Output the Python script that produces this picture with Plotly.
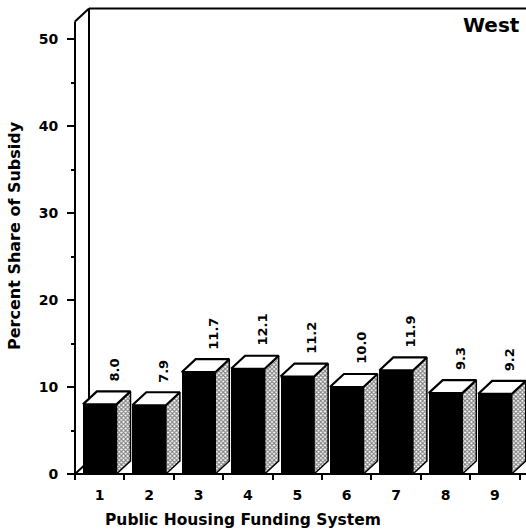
import plotly.graph_objects as go

# ---- data ----
systems = [1, 2, 3, 4, 5, 6, 7, 8, 9]
tick_labels = ["1", "2", "3", "4", "5", "6", "7", "8", "9"]
shares = [8.0, 7.9, 11.7, 12.1, 11.2, 10.0, 11.9, 9.3, 9.2]
value_labels = ["8.0", "7.9", "11.7", "12.1", "11.2", "10.0", "11.9", "9.3", "9.2"]
y_ticks = [0, 10, 20, 30, 40, 50]
region = "West"
x_title = "Public Housing Funding System"
y_title = "Percent Share of Subsidy"

# ---- geometry (pixels of a 526x531 page) ----
W, H = 526, 531
L, R, T, B = 62, 526, 2, 480          # plot area in pixels
CX1, PX_PER_CAT = 99.7, 49.4            # centre of category 1, px per category
Y0PX, PX_PER_UNIT = 474.0, 8.7          # pixel of value 0, px per unit
BAR_W = 0.68                            # front face width (category units)
DX = 14 / PX_PER_CAT                    # depth offset in x units
DY = 13 / PX_PER_UNIT                   # depth offset in y units
WALL_TOP = 52.0
X0 = 0.5

def px2x(p):
    return 1 + (p - CX1) / PX_PER_CAT

def px2y(p):
    return (Y0PX - p) / PX_PER_UNIT

xr = [px2x(L), px2x(R)]
yr = [px2y(B), px2y(T)]

def paper_x(p):
    return (p - L) / (R - L)

def paper_y(p):
    return (B - p) / (B - T)

fig = go.Figure()

# front faces
fig.add_trace(go.Bar(x=systems, y=shares, width=BAR_W, marker=dict(color="black", line=dict(width=0)),
                     showlegend=False, hoverinfo="skip"))

# side and top faces
for xc, v in zip(systems, shares):
    xr_ = xc + BAR_W / 2
    xl_ = xc - BAR_W / 2
    fig.add_trace(go.Scatter(
        x=[xr_, xr_, xr_ + DX, xr_ + DX, xr_],
        y=[0, v, v + DY, DY, 0],
        mode="lines", fill="toself", fillcolor="white",
        fillpattern=dict(shape="x", size=3, solidity=0.6, fgcolor="black", bgcolor="white"),
        line=dict(color="black", width=1.5), showlegend=False, hoverinfo="skip"))
    fig.add_trace(go.Scatter(
        x=[xl_, xr_, xr_ + DX, xl_ + DX, xl_],
        y=[v, v, v + DY, v + DY, v],
        mode="lines", fill="toself", fillcolor="white",
        line=dict(color="black", width=2.2), showlegend=False, hoverinfo="skip"))

# frame (3-D box), drawn beneath the bars
frame = [
    (X0, 0, X0, WALL_TOP),
    (X0, WALL_TOP, X0 + DX, WALL_TOP + DY),
    (X0 + DX, DY, X0 + DX, WALL_TOP + DY),
    (X0 + DX, WALL_TOP + DY, xr[1], WALL_TOP + DY),
    (X0, 0, xr[1], 0),
    (X0, 0, X0 + DX, DY),
]
for x_a, y_a, x_b, y_b in frame:
    fig.add_shape(type="line", xref="x", yref="y", x0=x_a, y0=y_a, x1=x_b, y1=y_b,
                  line=dict(color="black", width=2), layer="below")

# value labels
for xc, v, lab in zip(systems, shares, value_labels):
    fig.add_annotation(x=xc + 0.3, y=v + DY + 0.9, xref="x", yref="y", text=lab,
                       textangle=-90, showarrow=False, xanchor="center", yanchor="bottom",
                       font=dict(family="DejaVu Sans", size=13, color="black", weight="bold"))

# titles
fig.add_annotation(x=paper_x(522), y=paper_y(25), xref="paper", yref="paper", text=region,
                   showarrow=False, xanchor="right", yanchor="middle",
                   font=dict(family="DejaVu Sans", size=20, color="black", weight="bold"))
fig.add_annotation(x=paper_x(243), y=paper_y(520), xref="paper", yref="paper", text=x_title,
                   showarrow=False, xanchor="center", yanchor="middle",
                   font=dict(family="DejaVu Sans", size=15.5, color="black", weight="bold"))
fig.add_annotation(x=paper_x(14), y=paper_y(236), xref="paper", yref="paper", text=y_title,
                   textangle=-90, showarrow=False, xanchor="center", yanchor="middle",
                   font=dict(family="DejaVu Sans", size=16, color="black", weight="bold"))

fig.update_layout(
    width=W, height=H,
    margin=dict(l=L, r=W - R, t=T, b=H - B, pad=0),
    paper_bgcolor="white", plot_bgcolor="white",
    showlegend=False, bargap=0,
    xaxis=dict(range=xr, anchor="free", position=paper_y(Y0PX),
               tickmode="array", tickvals=systems, ticktext=tick_labels,
               ticks="", showline=False, showgrid=False, zeroline=False,
               ticklabelstandoff=11,
               tickfont=dict(family="DejaVu Sans", size=14, color="black", weight="bold"),
               minor=dict(tickmode="linear", tick0=0.5, dtick=1, ticks="outside",
                          ticklen=5, tickwidth=2, tickcolor="black", showgrid=False)),
    yaxis=dict(range=yr, anchor="free", position=paper_x(75),
               tickmode="array", tickvals=y_ticks,
               ticks="outside", ticklen=8, tickwidth=2, tickcolor="black",
               showline=False, showgrid=False, zeroline=False,
               ticklabelstandoff=6,
               tickfont=dict(family="DejaVu Sans", size=14, color="black", weight="bold"),
               minor=dict(tickmode="linear", tick0=0, dtick=5, ticks="outside",
                          ticklen=4, tickwidth=2, tickcolor="black", showgrid=False)),
)

fig.write_html("out.html")
